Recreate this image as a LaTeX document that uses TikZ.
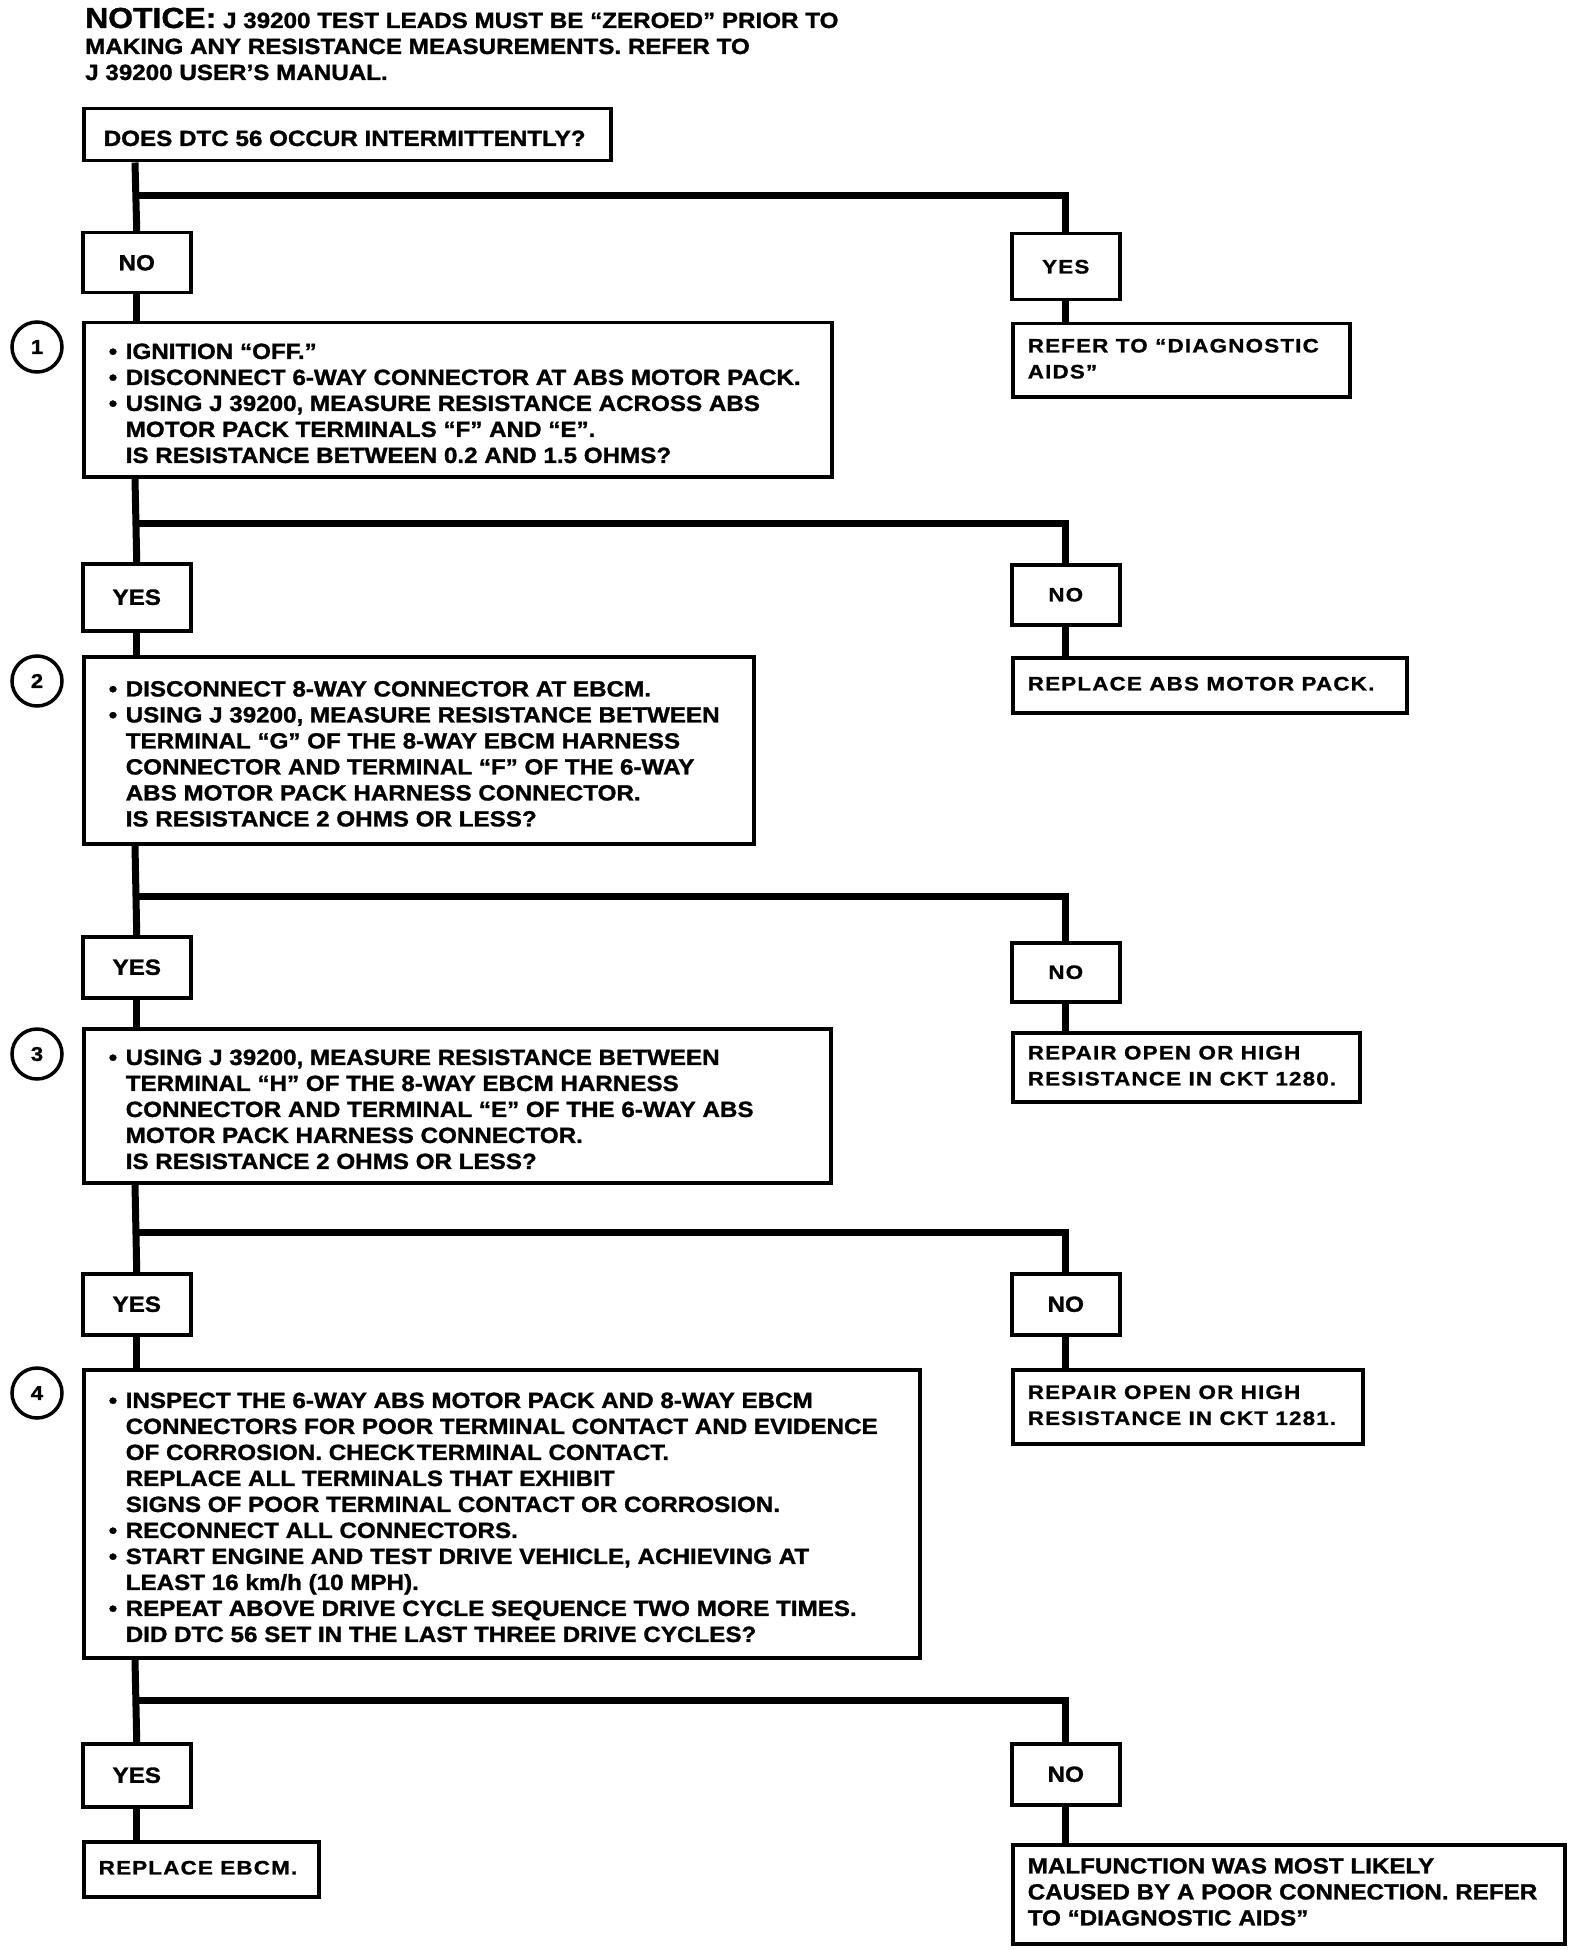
\documentclass[tikz,border=0pt]{standalone}
\usepackage{fontspec}
\setmainfont{Liberation Sans}
\newfontfamily\mf{Liberation Sans}[FakeStretch=1.1,FakeBold=1.3]
\newfontfamily\wf{Liberation Sans}[FakeStretch=1.15,LetterSpace=6,FakeBold=1]
\newcommand\mainsize{\mf\bfseries\fontsize{22}{26}\selectfont}
\newcommand\widesize{\wf\bfseries\fontsize{19.5}{26}\selectfont}
\newcommand\bul{\makebox[17pt][l]{•}}
\newcommand\ind{\hspace*{17pt}}
\newcommand\tlines[2]{\makebox[#1][l]{\raisebox{-6pt}[\height][\depth]{\begin{tabular}{@{}l@{}}#2\end{tabular}}}}
\newcommand\wlines[2]{\makebox[#1][l]{\begin{tabular}{@{}l@{}}#2\end{tabular}}}
\tikzset{
  frame/.style={draw, line width=3.5pt, rectangle, inner sep=0pt, anchor=north west},
  conn/.style={line width=7pt},
  lab/.style={frame, minimum width=108pt, minimum height=60pt, font=\mainsize},
  wlab/.style={lab, font=\widesize},
  num/.style={circle, draw, line width=3.5pt, minimum size=50pt, inner sep=0pt, font=\mf\bfseries\fontsize{20}{20}\selectfont}
}
\begin{document}
\begin{tikzpicture}[x=1pt,y=-1pt]
\useasboundingbox (0,0) rectangle (1584,1950);
\fill[white] (0,0) rectangle (1584,1950);

% notice
\node[anchor=base west, inner sep=0pt, font=\mainsize] (notice) at (85,28)
  {\begin{tabular}[t]{@{}l@{}}{\fontsize{29}{26}\selectfont NOTICE:} J 39200 TEST LEADS MUST BE “ZEROED” PRIOR TO\\
  MAKING ANY RESISTANCE MEASUREMENTS. REFER TO\\
  J 39200 USER’S MANUAL.\end{tabular}};

% question
\node[frame, minimum width=527pt, minimum height=52pt, font=\mainsize] (q0) at (82,107)
  {\tlines{487pt}{DOES DTC 56 OCCUR INTERMITTENTLY?}};

\coordinate (sp) at (135,0);
\coordinate (j0) at (135,196);
\coordinate (j1) at (135,523);
\coordinate (j2) at (135,896);
\coordinate (j3) at (135,1232);
\coordinate (j4) at (135,1700);

% row 0
\node[lab] (n0) at (81,231) {NO};
\node[wlab, minimum height=66pt] (y0) at (1010,232) {YES};
\node[frame, minimum width=337pt, minimum height=73pt, font=\widesize] (a0) at (1011,322)
  {\wlines{307pt}{REFER TO “DIAGNOSTIC\\ AIDS”}};

% box 1
\node[num] (c1) at (37,347) {1};
\node[frame, minimum width=748pt, minimum height=154pt, font=\mainsize] (b1) at (82,321)
  {\tlines{698pt}{\bul IGNITION “OFF.”\\
  \bul DISCONNECT 6-WAY CONNECTOR AT ABS MOTOR PACK.\\
  \bul USING J 39200, MEASURE RESISTANCE ACROSS ABS\\
  \ind MOTOR PACK TERMINALS “F” AND “E”.\\
  \ind IS RESISTANCE BETWEEN 0.2 AND 1.5 OHMS?}};

% row 1
\node[lab, minimum height=67pt] (y1) at (81,562) {YES};
\node[wlab] (n1) at (1010,563) {NO};
\node[frame, minimum width=394pt, minimum height=55pt, font=\widesize] (a1) at (1011,656)
  {\wlines{364pt}{REPLACE ABS MOTOR PACK.}};

% box 2
\node[num] (c2) at (37,681) {2};
\node[frame, minimum width=670pt, minimum height=187pt, font=\mainsize] (b2) at (82,655)
  {\tlines{620pt}{\bul DISCONNECT 8-WAY CONNECTOR AT EBCM.\\
  \bul USING J 39200, MEASURE RESISTANCE BETWEEN\\
  \ind TERMINAL “G” OF THE 8-WAY EBCM HARNESS\\
  \ind CONNECTOR AND TERMINAL “F” OF THE 6-WAY\\
  \ind ABS MOTOR PACK HARNESS CONNECTOR.\\
  \ind IS RESISTANCE 2 OHMS OR LESS?}};

% row 2
\node[lab, minimum height=61pt] (y2) at (81,935) {YES};
\node[wlab, minimum height=59pt] (n2) at (1010,941) {NO};
\node[frame, minimum width=347pt, minimum height=69pt, font=\widesize] (a2) at (1011,1031)
  {\wlines{317pt}{REPAIR OPEN OR HIGH\\ RESISTANCE IN CKT 1280.}};

% box 3
\node[num] (c3) at (37,1054) {3};
\node[frame, minimum width=747pt, minimum height=154pt, font=\mainsize] (b3) at (82,1027)
  {\tlines{697pt}{\bul USING J 39200, MEASURE RESISTANCE BETWEEN\\
  \ind TERMINAL “H” OF THE 8-WAY EBCM HARNESS\\
  \ind CONNECTOR AND TERMINAL “E” OF THE 6-WAY ABS\\
  \ind MOTOR PACK HARNESS CONNECTOR.\\
  \ind IS RESISTANCE 2 OHMS OR LESS?}};

% row 3
\node[lab, minimum height=61pt] (y3) at (81,1272) {YES};
\node[lab, minimum height=61pt] (n3) at (1010,1272) {NO};
\node[frame, minimum width=350pt, minimum height=74pt, font=\widesize] (a3) at (1011,1368)
  {\wlines{320pt}{REPAIR OPEN OR HIGH\\ RESISTANCE IN CKT 1281.}};

% box 4
\node[num] (c4) at (37,1393) {4};
\node[frame, minimum width=836pt, minimum height=288pt, font=\mainsize] (b4) at (82,1368)
  {\tlines{786pt}{\bul INSPECT THE 6-WAY ABS MOTOR PACK AND 8-WAY EBCM\\
  \ind CONNECTORS FOR POOR TERMINAL CONTACT AND EVIDENCE\\
  \ind OF CORROSION. CHECK\hspace{2pt}TERMINAL CONTACT.\\
  \ind REPLACE ALL TERMINALS THAT EXHIBIT\\
  \ind SIGNS OF POOR TERMINAL CONTACT OR CORROSION.\\
  \bul RECONNECT ALL CONNECTORS.\\
  \bul START ENGINE AND TEST DRIVE VEHICLE, ACHIEVING AT\\
  \ind LEAST 16 km/h (10 MPH).\\
  \bul REPEAT ABOVE DRIVE CYCLE SEQUENCE TWO MORE TIMES.\\
  \ind DID DTC 56 SET IN THE LAST THREE DRIVE CYCLES?}};

% row 4
\node[lab, minimum height=63pt] (y4) at (81,1742) {YES};
\node[lab, minimum height=61pt] (n4) at (1010,1742) {NO};
\node[frame, minimum width=235pt, minimum height=55pt, font=\widesize] (a4) at (82,1840)
  {\wlines{205pt}{REPLACE EBCM.}};
\node[frame, minimum width=552pt, minimum height=99pt, font=\mainsize] (a5) at (1011,1843)
  {\wlines{522pt}{MALFUNCTION WAS MOST LIKELY\\
  CAUSED BY A POOR CONNECTION. REFER\\
  TO “DIAGNOSTIC AIDS”}};

% connectors
\draw[conn] (q0.south -| sp) -- (n0.north);
\draw[conn] (j0) -| (y0.north);
\draw[conn] (n0.south) -- (n0.south |- b1.north);
\draw[conn] (y0.south) -- (y0.south |- a0.north);

\draw[conn] (b1.south -| sp) -- (y1.north);
\draw[conn] (j1) -| (n1.north);
\draw[conn] (y1.south) -- (y1.south |- b2.north);
\draw[conn] (n1.south) -- (n1.south |- a1.north);

\draw[conn] (b2.south -| sp) -- (y2.north);
\draw[conn] (j2) -| (n2.north);
\draw[conn] (y2.south) -- (y2.south |- b3.north);
\draw[conn] (n2.south) -- (n2.south |- a2.north);

\draw[conn] (b3.south -| sp) -- (y3.north);
\draw[conn] (j3) -| (n3.north);
\draw[conn] (y3.south) -- (y3.south |- b4.north);
\draw[conn] (n3.south) -- (n3.south |- a3.north);

\draw[conn] (b4.south -| sp) -- (y4.north);
\draw[conn] (j4) -| (n4.north);
\draw[conn] (y4.south) -- (y4.south |- a4.north);
\draw[conn] (n4.south) -- (n4.south |- a5.north);
\end{tikzpicture}
\end{document}
